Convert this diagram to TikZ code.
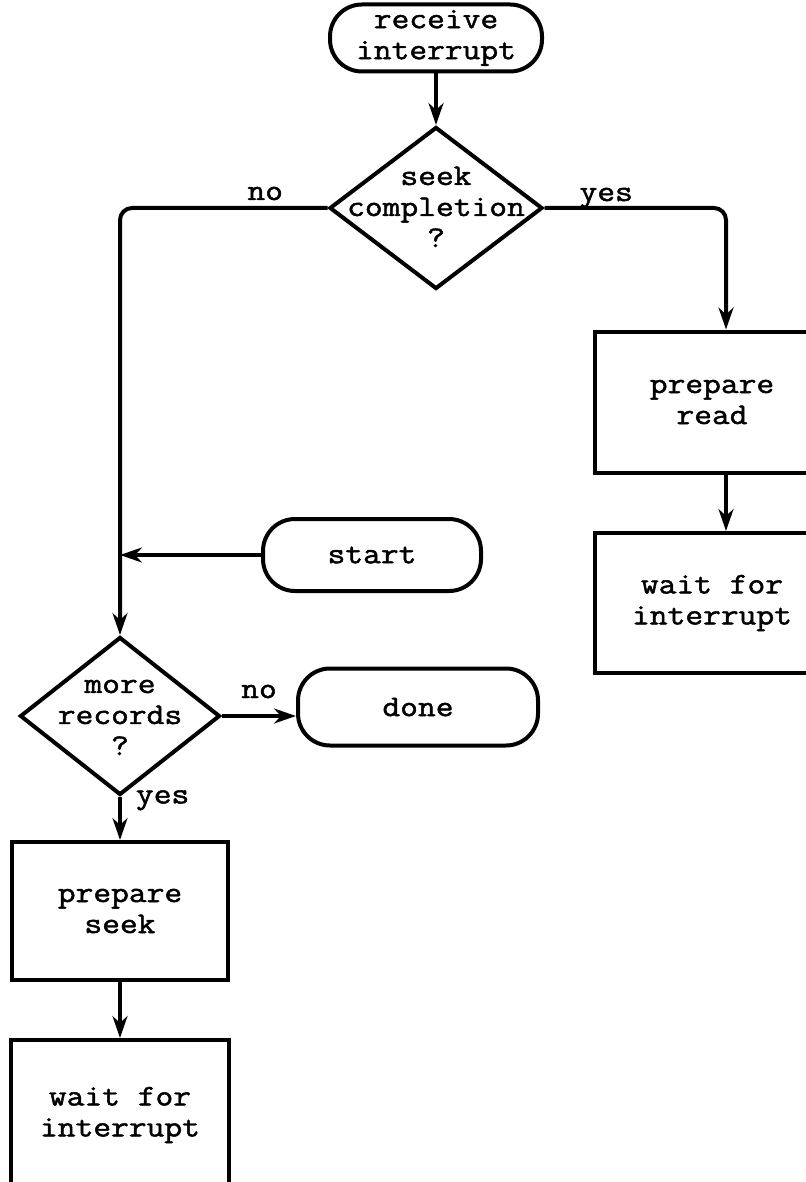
\documentclass[tikz,border=0pt]{standalone}
\usepackage{fontspec}
\setmonofont{Latin Modern Mono}[FakeStretch=1.15, FakeBold=1.6]
\usetikzlibrary{shapes.geometric,arrows.meta}
\newcommand{\dtext}[1]{\makebox[0pt]{\smash{\raisebox{-8pt}{\begin{tabular}{@{}c@{}}#1\end{tabular}}}}}
\tikzset{
    flow/.style={line width=4pt, -{Stealth[length=22pt,width=15pt]}},
    term/.style={draw, line width=4pt, rounded corners=32pt, align=center},
    proc/.style={draw, line width=4pt, align=center},
    test/.style={draw, diamond, line width=4pt, inner sep=0pt},
    tag/.style={anchor=base, inner sep=0pt},
}
\begin{document}
\begin{tikzpicture}[x=1pt, y=-1pt, font=\fontsize{30}{31}\selectfont\ttfamily]
        \useasboundingbox (0,0) rectangle (805,1182);

        \node[term, minimum width=212pt, minimum height=67pt] (recv) at (436,38) {receive\\interrupt};
        \node[test, minimum width=213pt, minimum height=162pt] (seek) at (436,208) {\dtext{seek\\completion\\?}};
        \node[proc, minimum width=235pt, minimum height=141pt] (read) at (712,402) {prepare\\read};
        \node[proc, minimum width=235pt, minimum height=140pt] (waitr) at (712,603) {wait for\\interrupt};
        \node[term, minimum width=218pt, minimum height=72pt] (start) at (372,555) {start};
        \node[test, minimum width=200pt, minimum height=158pt] (more) at (120,716) {\dtext{more\\records\\?}};
        \node[term, minimum width=240pt, minimum height=77pt] (done) at (418,707) {done};
        \node[proc, minimum width=216pt, minimum height=138pt] (seekp) at (120,911) {prepare\\seek};
        \node[proc, minimum width=218pt, minimum height=150pt] (waitl) at (120,1115) {wait for\\interrupt};

        \draw[flow] (recv) -- (seek);
        \draw[flow, rounded corners=12pt] (seek.west) -| (more.north) node[pos=0.15, tag, yshift=8pt] {no};
        \draw[flow, rounded corners=12pt] (seek.east) -| ([xshift=14pt]read.north) node[pos=0.17, tag, yshift=7pt] {yes};
        \draw[flow] ([xshift=14pt]read.south) -- ([xshift=14pt]waitr.north);
        \draw[flow] (start.west) -- (start.west -| more.north);
        \draw[flow] (more.east) -- (more.east -| done.west) node[midway, tag, yshift=18pt] {no};
        \draw[flow] (more.south) -- (seekp.north) node[pos=0.15, tag, anchor=base west, xshift=14pt] {yes};
        \draw[flow] (seekp) -- (waitl);

    \end{tikzpicture}
\end{document}
